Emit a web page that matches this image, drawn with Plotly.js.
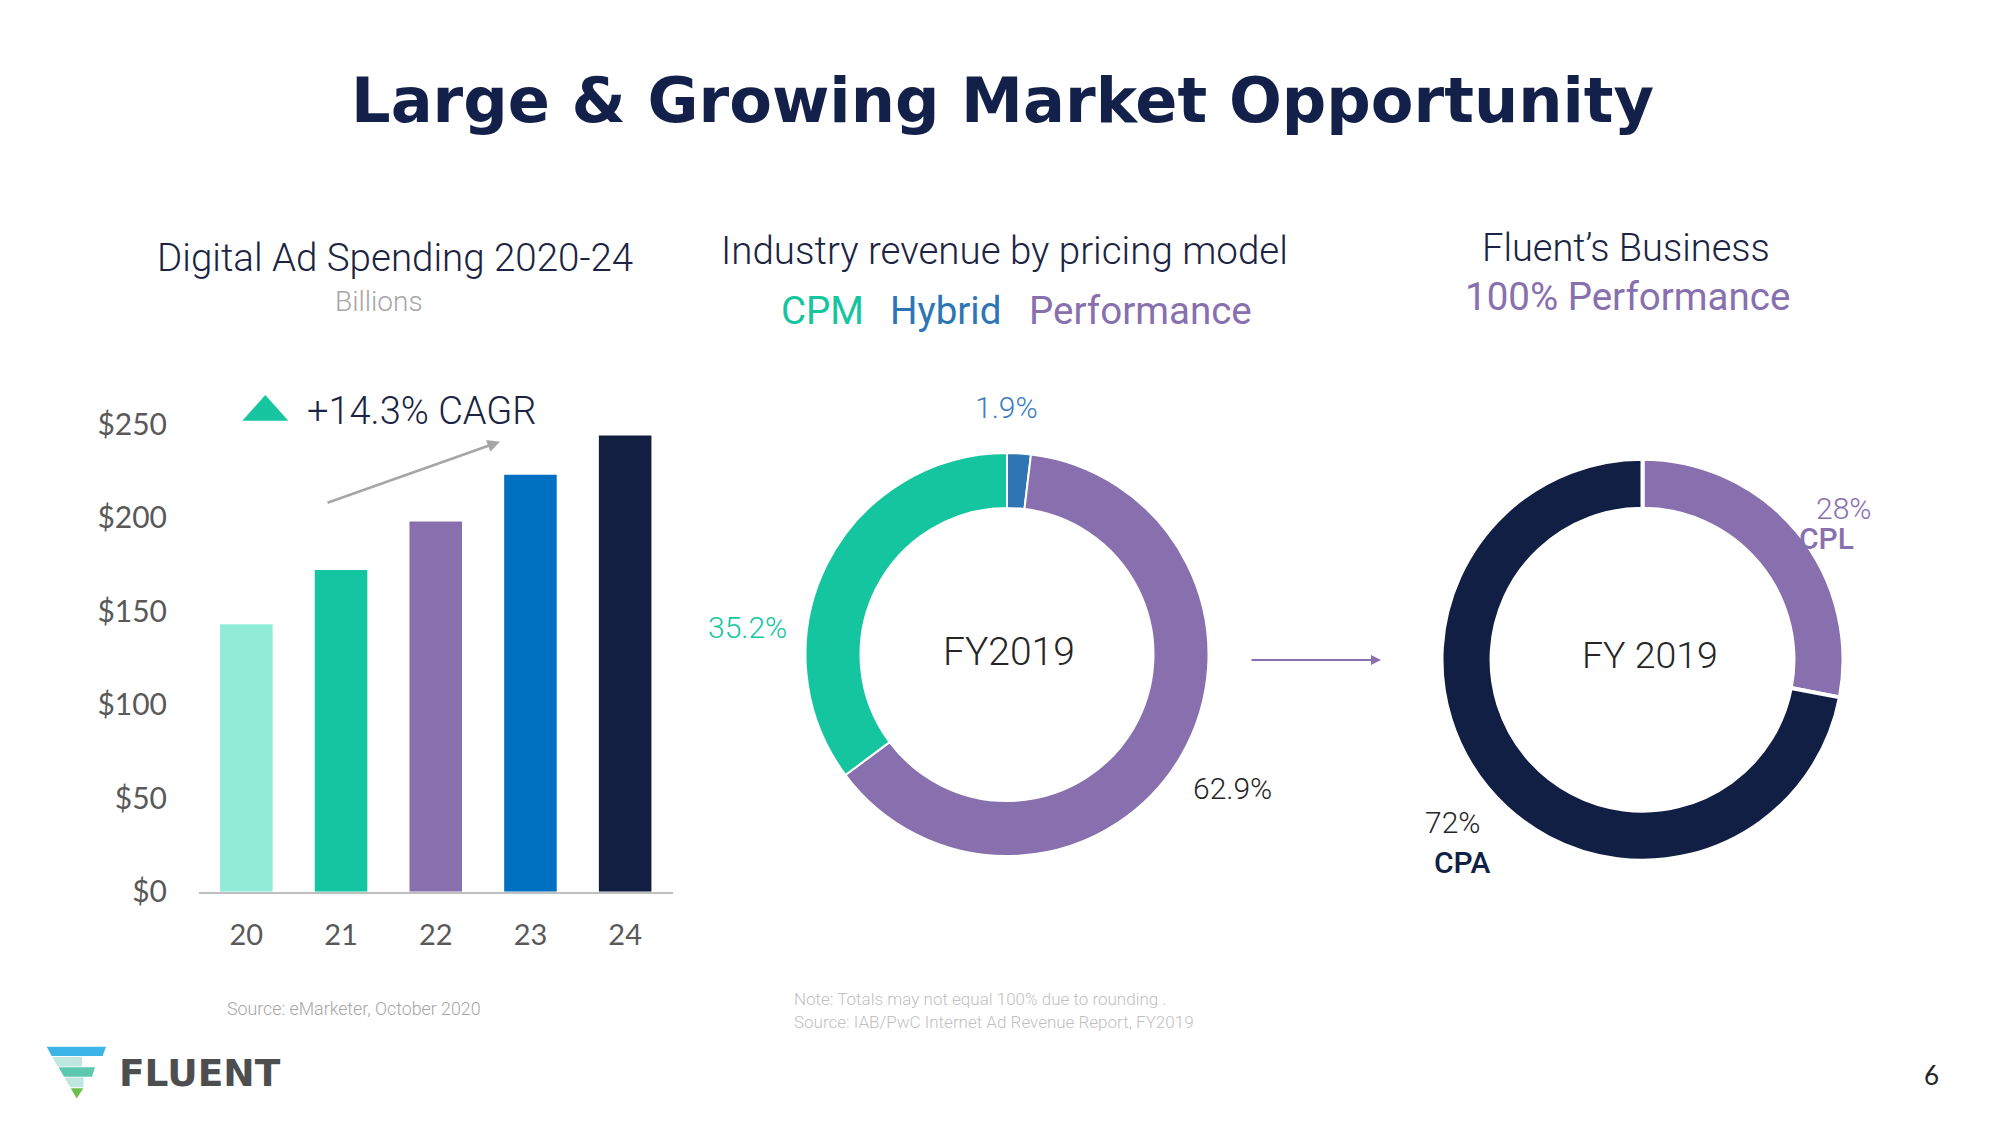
<!DOCTYPE html>
<html><head><meta charset="utf-8">
<script src="https://cdn.plot.ly/plotly-3.0.1.min.js"></script>
<style>html,body{margin:0;padding:0;background:#fff;} #chart{width:2000px;height:1126px;}</style>
</head><body><div id="chart"></div>
<script>
// ---- data ----
const years = ['20', '21', '22', '23', '24'];
const adSpend = [143, 172, 198, 223, 244];
const barColors = ['#90ECD7', '#13C6A1', '#8870AE', '#0070C0', '#121F41'];
const yTickVals = [0, 50, 100, 150, 200, 250];
const yTickText = ['$0', '$50', '$100', '$150', '$200', '$250'];
const cagrText = '+14.3% CAGR';

const pricingModels = ['Hybrid', 'Performance', 'CPM'];
const pricingShares = [1.9, 62.9, 35.2];
const pricingColors = ['#2E75B6', '#8870AE', '#15C5A0'];

const fluentModels = ['CPL', 'CPA'];
const fluentShares = [28, 72];
const fluentColors = ['#8870AE', '#121F44'];

// ---- layout helpers (pixel -> paper) ----
const W = 2000, H = 1126;
const px = x => x / W;
const py = y => 1 - y / H;
const NAVY = '#1B2442';
const DARK = '#262626';

function ann(text, x, y, size, color, opts) {
  opts = opts || {};
  return {
    text: text, x: px(x), y: py(y), xref: 'paper', yref: 'paper',
    xanchor: opts.xanchor || 'center', yanchor: 'middle', showarrow: false,
    font: {family: opts.family || 'Roboto', size: size, color: color, weight: opts.weight || 300}
  };
}
function poly(points, color) {
  let d = points.map((p, i) => (i ? 'L' : 'M') + px(p[0]) + ',' + py(p[1])).join(' ') + ' Z';
  return {type: 'path', xref: 'paper', yref: 'paper', path: d, fillcolor: color, line: {width: 0}};
}

const traces = [
  {
    type: 'bar', x: years, y: adSpend, marker: {color: barColors},
    xaxis: 'x', yaxis: 'y', hoverinfo: 'skip'
  },
  {
    type: 'pie', labels: pricingModels, values: pricingShares, sort: false,
    direction: 'clockwise', rotation: 0, hole: 0.727, textinfo: 'none',
    marker: {colors: pricingColors, line: {color: '#ffffff', width: 2}},
    domain: {x: [px(805.5), px(1208.5)], y: [py(856), py(453)]}, hoverinfo: 'skip'
  },
  {
    type: 'pie', labels: fluentModels, values: fluentShares, sort: false,
    direction: 'clockwise', rotation: 0, hole: 0.751, textinfo: 'none',
    marker: {colors: fluentColors, line: {color: '#ffffff', width: 4}},
    domain: {x: [px(1441.5), px(1843.5)], y: [py(860.7), py(458.7)]}, hoverinfo: 'skip'
  }
];

const annotations = [
  // main title
  ann('Large &amp; Growing Market Opportunity', 1003, 101, 62.2, '#13204A', {family: 'DejaVu Sans', weight: 700}),
  // panel headers
  ann('Digital Ad Spending 2020-24', 395, 257, 38.5, NAVY),
  ann('Billions', 379, 302, 28, '#A6A6A6'),
  ann('Industry revenue by pricing model', 1004, 250, 38.5, NAVY),
  ann(pricingModels[2], 822, 310, 38.5, pricingColors[2], {weight: 400}),
  ann(pricingModels[0], 945, 310, 38.5, pricingColors[0], {weight: 400}),
  ann(pricingModels[1], 1140, 310, 38.5, pricingColors[1], {weight: 400}),
  ann('Fluent’s Business', 1626, 248, 38, NAVY),
  ann('100% ' + pricingModels[1], 1627, 296, 38.5, '#8870AE', {weight: 400}),
  // CAGR
  ann(cagrText, 422, 411, 38, NAVY),
  // donut 1 labels
  ann('FY2019', 1009, 652, 39, DARK),
  ann(pricingShares[0] + '%', 1007, 407, 30, '#3B7DC0'),
  ann(pricingShares[2] + '%', 747, 627, 30, pricingColors[2]),
  ann(pricingShares[1] + '%', 1232, 788, 30, DARK),
  // donut 2 labels
  ann('FY 2019', 1650, 655, 37.5, DARK),
  ann(fluentShares[0] + '%', 1843, 508, 30, fluentColors[0]),
  ann(fluentModels[0], 1826, 538, 30, fluentColors[0], {weight: 500}),
  ann(fluentShares[1] + '%', 1452, 822, 30, DARK),
  ann(fluentModels[1], 1462, 862, 30, fluentColors[1], {weight: 500}),
  // footnotes
  ann('Source: eMarketer, October 2020', 354, 1008, 17.8, '#A6A6A6'),
  ann('Note: Totals may not equal 100% due to rounding .', 792, 999, 17, '#BFBFBF', {xanchor: 'left'}),
  ann('Source: IAB/PwC Internet Ad Revenue Report, FY2019', 792, 1022, 17, '#BFBFBF', {xanchor: 'left'}),
  // logo text + page number
  ann('FLUENT', 200, 1073, 37.5, '#4D4E50', {family: 'DejaVu Sans', weight: 700}),
  ann('6', 1931, 1075, 26, '#262626', {family: 'Lato', weight: 400}),
  // CAGR arrow
  {x: px(500), y: py(441.7), xref: 'paper', yref: 'paper', ax: -174, ay: 61.6, axref: 'pixel', ayref: 'pixel',
   text: '', showarrow: true, arrowhead: 2, arrowsize: 1, arrowwidth: 2.5, arrowcolor: '#A6A6A6'},
  // arrow between donuts
  {x: px(1381), y: py(660), xref: 'paper', yref: 'paper', ax: -131, ay: 0, axref: 'pixel', ayref: 'pixel',
   text: '', showarrow: true, arrowhead: 2, arrowsize: 1, arrowwidth: 2, arrowcolor: '#8870AE'}
];

const shapes = [
  // CAGR triangle
  poly([[242.3, 420.7], [288.3, 420.7], [265.3, 395]], '#17C5A0'),
  // logo icon
  poly([[46.7, 1046.7], [106, 1046.7], [102.7, 1056], [51.7, 1056]], '#3CB4E7'),
  poly([[52.3, 1057], [82, 1057], [82, 1066.5], [57.8, 1066.5]], '#BFE6DF'),
  poly([[58.6, 1067.3], [95, 1067.3], [92, 1076.7], [64, 1076.7]], '#5CC8B0'),
  poly([[64.5, 1077.5], [83.5, 1077.5], [83.5, 1087.3], [70.2, 1087.3]], '#BFE6DF'),
  poly([[70.8, 1088.3], [83.3, 1088.3], [76.7, 1098.5]], '#6CC04A')
];

const layout = {
  width: W, height: H,
  margin: {l: 0, r: 0, t: 0, b: 0},
  paper_bgcolor: '#ffffff', plot_bgcolor: 'rgba(0,0,0,0)',
  showlegend: false,
  bargap: 0.445,
  xaxis: {
    domain: [px(199), px(672.5)], anchor: 'y', type: 'category', range: [-0.5, 4.5],
    showgrid: false, zeroline: false, showline: true, linecolor: '#BFBFBF', linewidth: 2,
    ticks: '', ticklabelstandoff: 16, fixedrange: true,
    tickfont: {family: 'Lato', size: 29, color: '#595959'}
  },
  yaxis: {
    domain: [py(891.7), py(424.2)], anchor: 'x', range: [0, 250],
    tickvals: yTickVals, ticktext: yTickText,
    showgrid: false, zeroline: false, showline: false,
    ticks: '', ticklabelstandoff: 31, fixedrange: true,
    tickfont: {family: 'Lato', size: 30, color: '#595959'}
  },
  annotations: annotations,
  shapes: shapes
};

Plotly.newPlot('chart', traces, layout, {displayModeBar: false, staticPlot: true});
</script>
</body></html>
